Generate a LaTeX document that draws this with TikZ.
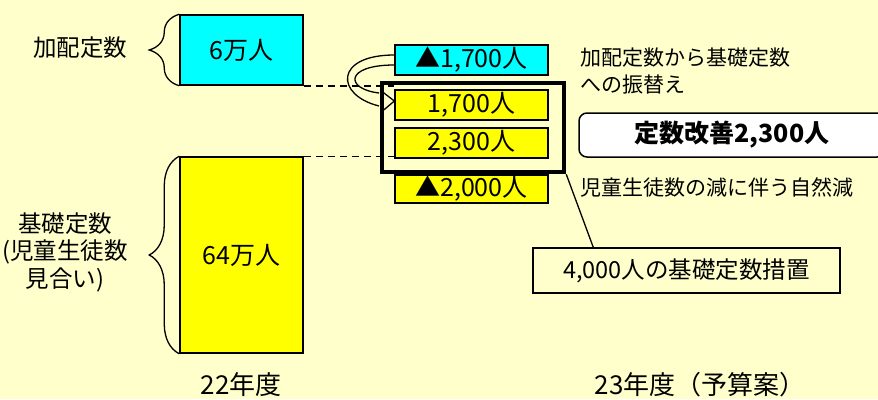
\documentclass[tikz,border=0pt]{standalone}
\usepackage{fontspec}
\setmainfont{Noto Sans CJK JP}
\usetikzlibrary{decorations.pathreplacing}
\definecolor{bgyellow}{RGB}{255,255,204}
\definecolor{kahaicyan}{RGB}{0,255,255}
\definecolor{kisoyellow}{RGB}{255,255,0}

\begin{document}
\begin{tikzpicture}[x=1pt,y=-1pt,
	bar/.style={draw,line width=1.5pt,minimum width=123pt,inner sep=0pt,font=\fontsize{25}{28}\selectfont},
	diff/.style={draw,line width=1.3pt,minimum width=153pt,minimum height=30pt,inner sep=0pt,font=\fontsize{25}{27}\selectfont},
	lbl/.style={font=\fontsize{23.5}{27.5}\selectfont,align=center,inner sep=0pt},
	note/.style={font=\fontsize{21}{27}\selectfont,align=left,anchor=west,inner sep=0pt},
	brc/.style={decorate,decoration={brace,amplitude=30pt},line width=1.3pt},
	nendo/.style={font=\fontsize{26}{28}\selectfont,inner sep=0pt}]
		\fill[bgyellow] (0,0) rectangle (878,399);
		\useasboundingbox (0,0) rectangle (878,399);
		\node[bar,fill=kahaicyan,minimum height=70pt] (kahai) at (241.5,50) {6万人};
		\node[bar,fill=kisoyellow,minimum height=196pt] (kiso) at (241.5,255) {64万人};
		\draw[brc] (kahai.south west) -- (kahai.north west);
		\draw[brc] (kiso.south west) -- (kiso.north west);
		\node[lbl] (kahailbl) at (80,48) {加配定数};
		\node[lbl] (kisolbl) at (65,252) {基礎定数\\(児童生徒数\\見合い)};
		\node[nendo] (y22) at (241,385) {22年度};
		\node[nendo] (y23) at (700,385) {23年度（予算案）};
		\node[diff,fill=kahaicyan] (ma1700) at (471.5,60) {▲1,700人};
		\node[diff,fill=kisoyellow] (p1700) at (471.5,105) {1,700人};
		\node[diff,fill=kisoyellow] (p2300) at (471.5,143) {2,300人};
		\node[diff,fill=kisoyellow,minimum height=28pt] (ma2000) at (471.5,189) {▲2,000人};
		\draw[line width=1.5pt,dash pattern=on 7pt off 5pt] (kahai.south east) -- (p1700.west |- kahai.south east);
		\draw[line width=1.5pt,dash pattern=on 7pt off 5pt] (kiso.north east) -- (p2300.west |- kiso.north east);
		\coordinate (loopout) at (379,106);
		\coordinate (loopin) at (379,93);
		\coordinate (furitip) at ([yshift=4pt]p1700.west);
		\draw[line width=1.3pt] ([yshift=5pt]ma1700.west) .. controls +(-60,0) and +(-44,-11) .. (loopout);
		\draw[line width=1.3pt] ([yshift=-5pt]ma1700.west) .. controls +(-50,0) and +(-34,-4) .. (loopin);
		\draw[line width=1.3pt] ([shift={(-13,-10)}]furitip) -- (furitip) -- ([shift={(-13,11)}]furitip);
		\node[draw,line width=4.5pt,minimum width=182pt,minimum height=89pt] (sochiwaku) at (473,127.5) {};
		\node[note] (furikae) at (580,71.5) {加配定数から基礎定数\\への振替え};
		\node[draw,line width=1.5pt,rounded corners=8pt,fill=white,minimum width=306pt,minimum height=44pt,font=\bfseries\fontsize{25}{28}\selectfont] (kaizen) at (732,135) {定数改善2,300人};
		\node[note] (shizen) at (580,187) {児童生徒数の減に伴う自然減};
		\node[draw,line width=1.5pt,minimum width=307pt,minimum height=45pt,font=\fontsize{23.5}{26}\selectfont] (sochi) at (686.5,270.5) {4,000人の基礎定数措置};
		\draw[line width=1.3pt] (sochiwaku.south east) -- ([xshift=61pt]sochi.north west);
	\end{tikzpicture}
\end{document}
